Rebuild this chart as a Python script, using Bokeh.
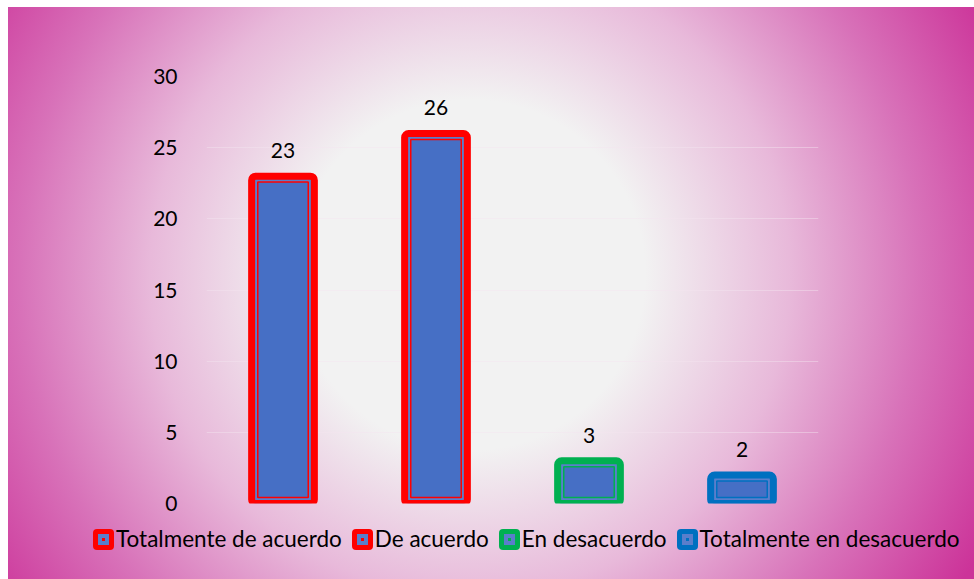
from bokeh.plotting import figure
from bokeh.models import (ColumnDataSource, Range1d, FactorRange, FixedTicker,
                          LabelSet, Div)
from bokeh.layouts import column
from bokeh.core.properties import value
from bokeh.embed import file_html
from bokeh.resources import INLINE

categories = ["Totalmente de acuerdo", "De acuerdo", "En desacuerdo", "Totalmente en desacuerdo"]
values = [23, 26, 3, 2]
border_colors = ["#ff0000", "#ff0000", "#00b050", "#0070c0"]
y_ticks = [0, 5, 10, 15, 20, 25, 30]

FONT = "Lato"
BAR_FILL = "#5a7ecb"

src = ColumnDataSource(dict(
    cat=categories,
    val=values,
    label=[str(v) for v in values],
    color=border_colors,
    inner_top=[v - 0.42 for v in values],
))

# ---------- main chart ----------
p = figure(width=974, height=525, x_range=FactorRange(*categories, range_padding=0),
           y_range=Range1d(0, 30), output_backend="svg", toolbar_location=None,
           min_border_left=206, min_border_right=156, min_border_top=76, min_border_bottom=22)

p.background_fill_color = None
p.border_fill_color = None
p.outline_line_color = None

outer = p.vbar(x="cat", top="val", bottom=0, width=0.41, source=src,
               fill_color=BAR_FILL, line_color="color", line_width=7,
               border_radius=4)
inner = p.vbar(x="cat", top="inner_top", bottom=0.42, width=0.33, source=src,
               fill_color="#466fc5", line_color="color", line_width=1.5)

labels = LabelSet(x="cat", y="val", text="label", source=src, y_offset=18,
                  text_align="center", text_baseline="alphabetic",
                  text_font=value(FONT), text_font_size="21px", text_color="#000000")
p.add_layout(labels)

p.xaxis.visible = False
p.yaxis.ticker = FixedTicker(ticks=y_ticks)
p.yaxis.axis_line_color = None
p.yaxis.major_tick_line_color = None
p.yaxis.minor_tick_line_color = None
p.yaxis.major_label_standoff = 23
p.yaxis.major_label_text_font = FONT
p.yaxis.major_label_text_font_size = "21px"
p.yaxis.major_label_text_color = "#000000"

p.xgrid.grid_line_color = None
p.ygrid.ticker = FixedTicker(ticks=y_ticks)
p.ygrid.grid_line_color = "#f4e4ef"
p.ygrid.grid_line_alpha = 0.45
p.ygrid.grid_line_width = 1

# ---------- legend (HTML strip below the chart) ----------
items_html = []
for name, col in zip(categories, border_colors):
    items_html.append(
        f'<span style="display:inline-flex;align-items:center;margin-right:10px;">'
        f'<span style="box-sizing:border-box;width:21px;height:21px;border-radius:4px;background:{col};'
        f'display:inline-flex;align-items:center;justify-content:center;margin-right:2px;">'
        f'<span style="box-sizing:border-box;width:11px;height:11px;background:{BAR_FILL};'
        f'display:inline-flex;align-items:center;justify-content:center;">'
        f'<span style="width:3px;height:3px;background:{col};"></span></span></span>'
        f'<span>{name}</span></span>'
    )
legend_html = ('<div style="display:flex;align-items:center;height:28px;padding-left:93px;'
               'white-space:nowrap;font-family:Lato;font-size:22.5px;color:#000000;">'
               + "".join(items_html) + '</div>')
legend_div = Div(text=legend_html, width=974, height=54, margin=0)

layout = column(p, legend_div, spacing=0)
layout.styles = {
    "background": "radial-gradient(circle at 470px 275px, #f2f2f2 0px, #f2f2f2 175px, #e8b9da 320px, #d872b9 450px, #cc3399 580px)",
    "box-shadow": "inset 8px 7px 0 0 #ffffff",
}

open("out.html", "w").write(file_html(layout, INLINE))
